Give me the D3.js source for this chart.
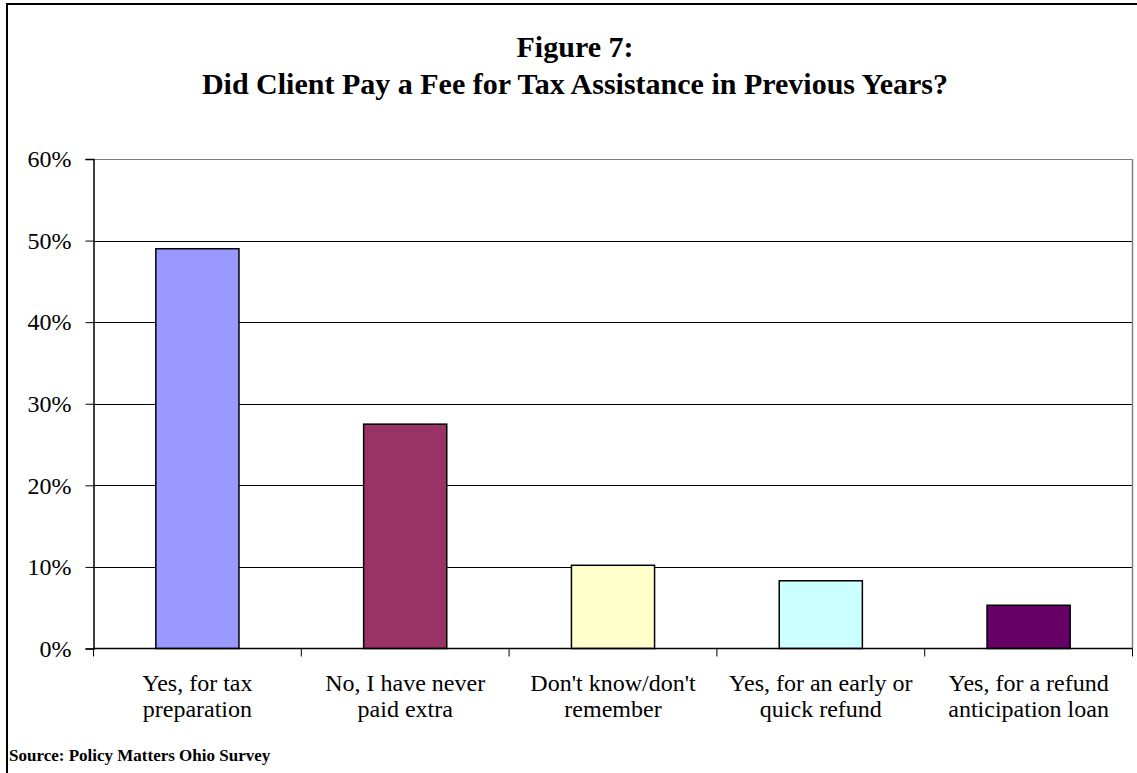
<!DOCTYPE html>
<html>
<head>
<meta charset="utf-8">
<script src="https://cdn.jsdelivr.net/npm/d3@7"></script>
<style>
  html, body { margin: 0; padding: 0; background: #fff; }
  svg { display: block; }
  text { font-family: "Liberation Serif", "Times New Roman", serif; fill: #000; }
</style>
</head>
<body>
<svg id="chart" width="1137" height="773"></svg>
<script>
// Survey responses: share of clients by prior tax-assistance fee experience
const categories = [
  ["Yes, for tax", "preparation"],
  ["No, I have never", "paid extra"],
  ["Don't know/don't", "remember"],
  ["Yes, for an early or", "quick refund"],
  ["Yes, for a refund", "anticipation loan"]
];
const shares = [0.49, 0.275, 0.102, 0.083, 0.053];
const barColors = ["#9999FF", "#993366", "#FFFFCC", "#CCFFFF", "#660066"];
const yTicks = [0, 0.1, 0.2, 0.3, 0.4, 0.5, 0.6];
const titleLines = ["Figure 7:", "Did Client Pay a Fee for Tax Assistance in Previous Years?"];
const sourceNote = "Source: Policy Matters Ohio Survey";

const svg = d3.select("#chart");

// Outer frame
svg.append("rect")
  .attr("x", 7).attr("y", 4)
  .attr("width", 1140).attr("height", 790)
  .attr("fill", "none").attr("stroke", "#000").attr("stroke-width", 2);

const plot = { left: 93.5, right: 1132.5, top: 159, bottom: 648.5 };
const ids = categories.map((d, i) => i);

const x = d3.scaleBand()
  .domain(ids)
  .range([plot.left, plot.right])
  .paddingInner(0.6)
  .paddingOuter(0.3);

const y = d3.scaleLinear()
  .domain([0, 0.6])
  .range([plot.bottom, plot.top]);

// Horizontal gridlines
svg.append("g").selectAll("line")
  .data(yTicks.filter(t => t > 0))
  .join("line")
  .attr("x1", plot.left).attr("x2", plot.right)
  .attr("y1", d => Math.round(y(d)) + 0.5).attr("y2", d => Math.round(y(d)) + 0.5)
  .attr("stroke", d => d === 0.6 ? "#808080" : "#000")
  .attr("stroke-width", 1);

// Right edge of plot area
svg.append("line")
  .attr("x1", plot.right).attr("x2", plot.right)
  .attr("y1", Math.round(y(0.6)) + 0.5).attr("y2", plot.bottom)
  .attr("stroke", "#808080").attr("stroke-width", 1.5);

// Bars
svg.append("g").selectAll("rect")
  .data(shares)
  .join("rect")
  .attr("x", (d, i) => x(i))
  .attr("y", d => y(d))
  .attr("width", x.bandwidth())
  .attr("height", d => y(0) - y(d))
  .attr("fill", (d, i) => barColors[i])
  .attr("stroke", "#000")
  .attr("stroke-width", 1.5);

// Y axis
const yAxis = d3.axisLeft(y)
  .tickValues(yTicks)
  .tickFormat(d3.format(".0%"))
  .tickSize(8)
  .tickPadding(14);
const gy = svg.append("g")
  .attr("transform", `translate(${plot.left},0)`)
  .call(yAxis);
gy.select(".domain").attr("stroke", "#000").attr("stroke-width", 1.5);
gy.selectAll(".tick line").attr("stroke", "#000");
gy.selectAll(".tick text")
  .attr("font-family", "Liberation Serif, Times New Roman, serif")
  .attr("font-size", 24)
  .attr("fill", "#000");

// X axis: ticks sit on category boundaries
const gx = svg.append("g");
gx.append("line")
  .attr("x1", plot.left).attr("x2", plot.right)
  .attr("y1", plot.bottom).attr("y2", plot.bottom)
  .attr("stroke", "#000").attr("stroke-width", 1.5);
const step = x.step();
const boundaries = ids.map(i => x(i) - step * x.paddingInner() / 2).concat([plot.right]);
gx.selectAll("line.tick")
  .data(boundaries)
  .join("line")
  .attr("class", "tick")
  .attr("x1", d => d).attr("x2", d => d)
  .attr("y1", plot.bottom).attr("y2", plot.bottom + 8)
  .attr("stroke", "#000").attr("stroke-width", 1);

// Category labels (two lines each)
const lbl = gx.selectAll("text.cat")
  .data(categories)
  .join("text")
  .attr("class", "cat")
  .attr("text-anchor", "middle")
  .attr("font-size", 24)
  .attr("transform", (d, i) => `translate(${x(i) + x.bandwidth() / 2},690.5)`);
lbl.selectAll("tspan")
  .data(d => d)
  .join("tspan")
  .attr("x", 0)
  .attr("dy", (d, j) => j === 0 ? 0 : 26)
  .text(d => d);

// Title
svg.append("text")
  .attr("text-anchor", "middle")
  .attr("font-weight", "bold")
  .attr("font-size", 30)
  .selectAll("tspan")
  .data(titleLines)
  .join("tspan")
  .attr("x", 575)
  .attr("y", (d, i) => 57 + i * 37)
  .text(d => d);

// Source note
svg.append("text")
  .attr("x", 9)
  .attr("y", 761)
  .attr("font-weight", "bold")
  .attr("font-size", 17)
  .text(sourceNote);
</script>
</body>
</html>
